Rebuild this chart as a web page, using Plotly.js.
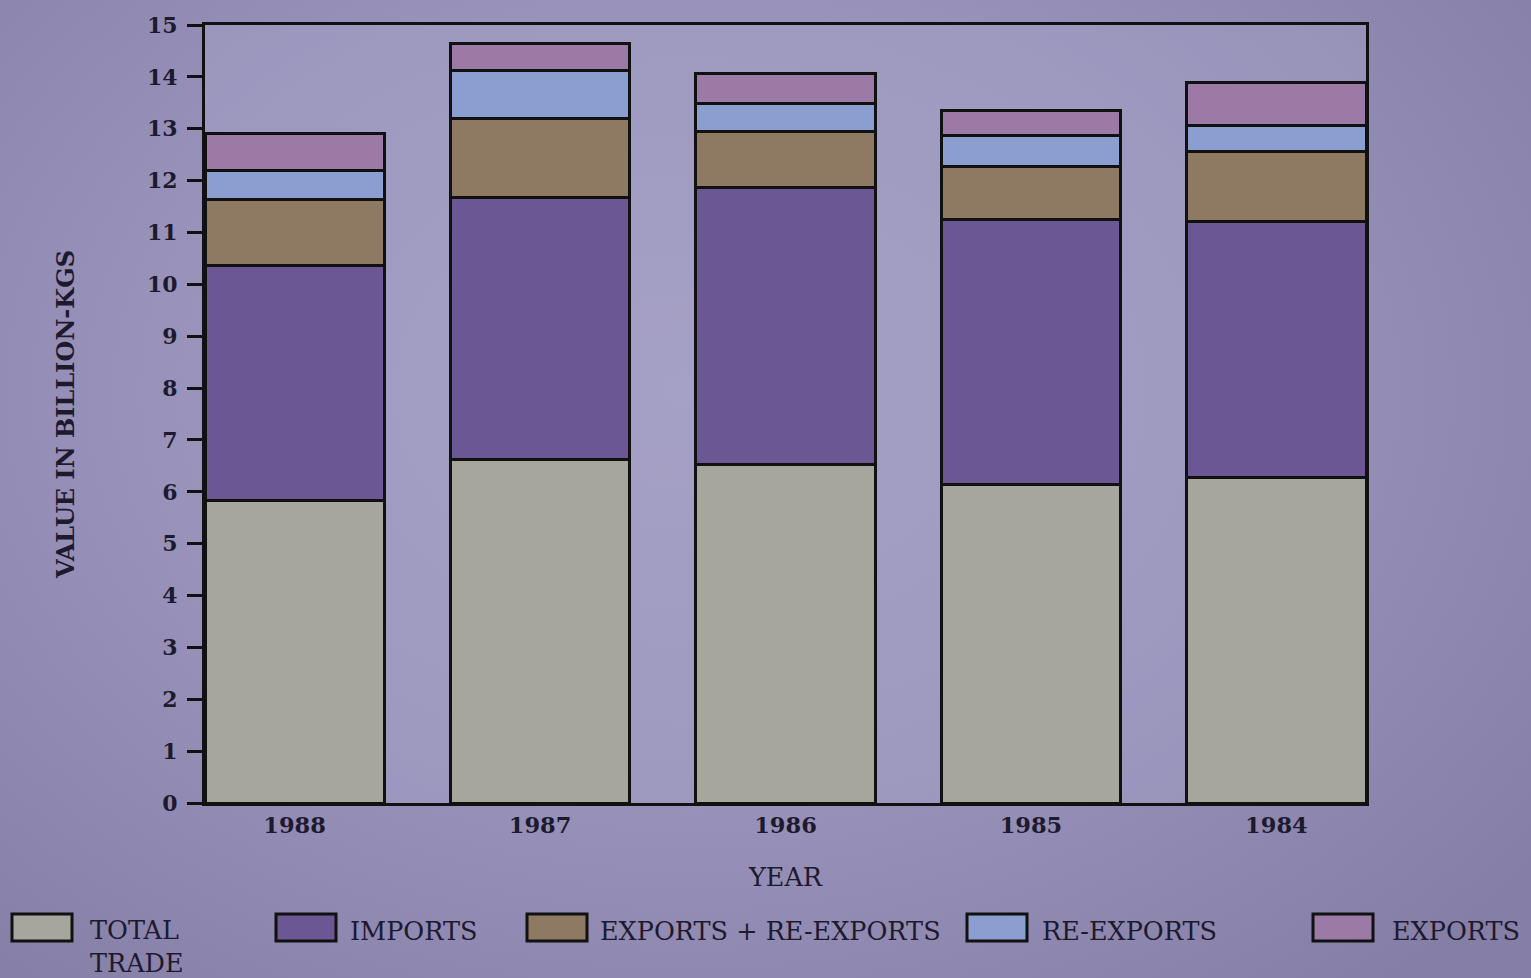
<!DOCTYPE html>
<html>
<head>
<meta charset="utf-8">
<script src="https://cdn.plot.ly/plotly-3.0.1.min.js"></script>
<style>
  html, body { margin:0; padding:0; width:1531px; height:978px; overflow:hidden;
    background: radial-gradient(ellipse 70% 80% at 45% 40%, #a39dc3 0%, #9993bb 50%, #857fa7 100%); }
  #chart { width:1531px; height:978px; }
</style>
</head>
<body>
<div id="chart"></div>
<script>
const years = ['1988', '1987', '1986', '1985', '1984'];
const seriesNames = ['TOTAL<br>TRADE', 'IMPORTS', 'EXPORTS + RE-EXPORTS', 'RE-EXPORTS', 'EXPORTS'];
const totalTrade       = [5.83, 6.62, 6.52, 6.15, 6.27];
const imports          = [4.54, 5.05, 5.35, 5.10, 4.94];
const exportsReExports = [1.26, 1.52, 1.07, 1.02, 1.35];
const reExports        = [0.56, 0.93, 0.54, 0.60, 0.50];
const exportsOnly      = [0.71, 0.53, 0.58, 0.48, 0.84];
const yTicks = [0,1,2,3,4,5,6,7,8,9,10,11,12,13,14,15];

const colors = ['#a7a69c', '#6a5793', '#8e7a63', '#8a9fd0', '#9b7aa5'];
const seriesValues = [totalTrade, imports, exportsReExports, reExports, exportsOnly];

const W = 1531, H = 978;
const M = {l: 205, r: 165, t: 25, b: 175};
const pw = W - M.l - M.r, ph = H - M.t - M.b;
const px2x = p => (p - M.l) / pw;
const py2y = p => (H - M.b - p) / ph;

const traces = seriesValues.map((vals, i) => ({
  type: 'bar',
  x: years,
  y: vals,
  name: seriesNames[i],
  marker: {color: colors[i], line: {color: '#111', width: 3}},
  showlegend: false,
  hoverinfo: 'x+y+name'
}));

const fontFam = '"DejaVu Serif", "Liberation Serif", serif';
const textCol = '#1d1a2e';

// custom legend
const boxX = [12, 276, 527, 967, 1313];
const textX = [88, 348, 598, 1040, 1390];
const shapes = [];
const annotations = [];
seriesNames.forEach((n, i) => {
  shapes.push({
    type: 'rect', xref: 'paper', yref: 'paper',
    x0: px2x(boxX[i]), x1: px2x(boxX[i] + 60),
    y0: py2y(941), y1: py2y(914),
    fillcolor: colors[i], line: {color: '#111', width: 3}
  });
  annotations.push({
    xref: 'paper', yref: 'paper',
    x: px2x(textX[i]), y: py2y(i === 0 ? 913 : 914),
    xanchor: 'left', yanchor: 'top', showarrow: false, align: 'left',
    text: n, font: {family: fontFam, size: 25.5, color: textCol}
  });
});

const layout = {
  width: W, height: H,
  margin: M,
  paper_bgcolor: 'rgba(0,0,0,0)',
  plot_bgcolor: 'rgba(170,166,200,0.35)',
  barmode: 'stack',
  bargap: 0.27,
  font: {family: fontFam, color: textCol},
  xaxis: {
    type: 'category',
    range: [-0.365, 4.365],
    showline: true, linecolor: '#111', linewidth: 3, mirror: true,
    ticks: '', showgrid: false, zeroline: false,
    tickfont: {family: fontFam, size: 22.5, color: textCol, weight: 'bold'},
    title: {text: 'YEAR', font: {family: fontFam, size: 25.5, color: textCol}, standoff: 32}
  },
  yaxis: {
    range: [0, 15],
    tickvals: yTicks,
    showline: true, linecolor: '#111', linewidth: 3, mirror: true,
    ticks: 'outside', ticklen: 15, tickwidth: 3, tickcolor: '#111',
    ticklabelstandoff: 5,
    showgrid: false, zeroline: false,
    tickfont: {family: fontFam, size: 22, color: textCol, weight: 'bold'},
    title: {text: 'VALUE IN BILLION-KGS', font: {family: fontFam, size: 24, color: textCol, weight: 'bold'}, standoff: 66}
  },
  shapes: shapes,
  annotations: annotations
};

Plotly.newPlot('chart', traces, layout, {displayModeBar: false, staticPlot: true});
</script>
</body>
</html>
